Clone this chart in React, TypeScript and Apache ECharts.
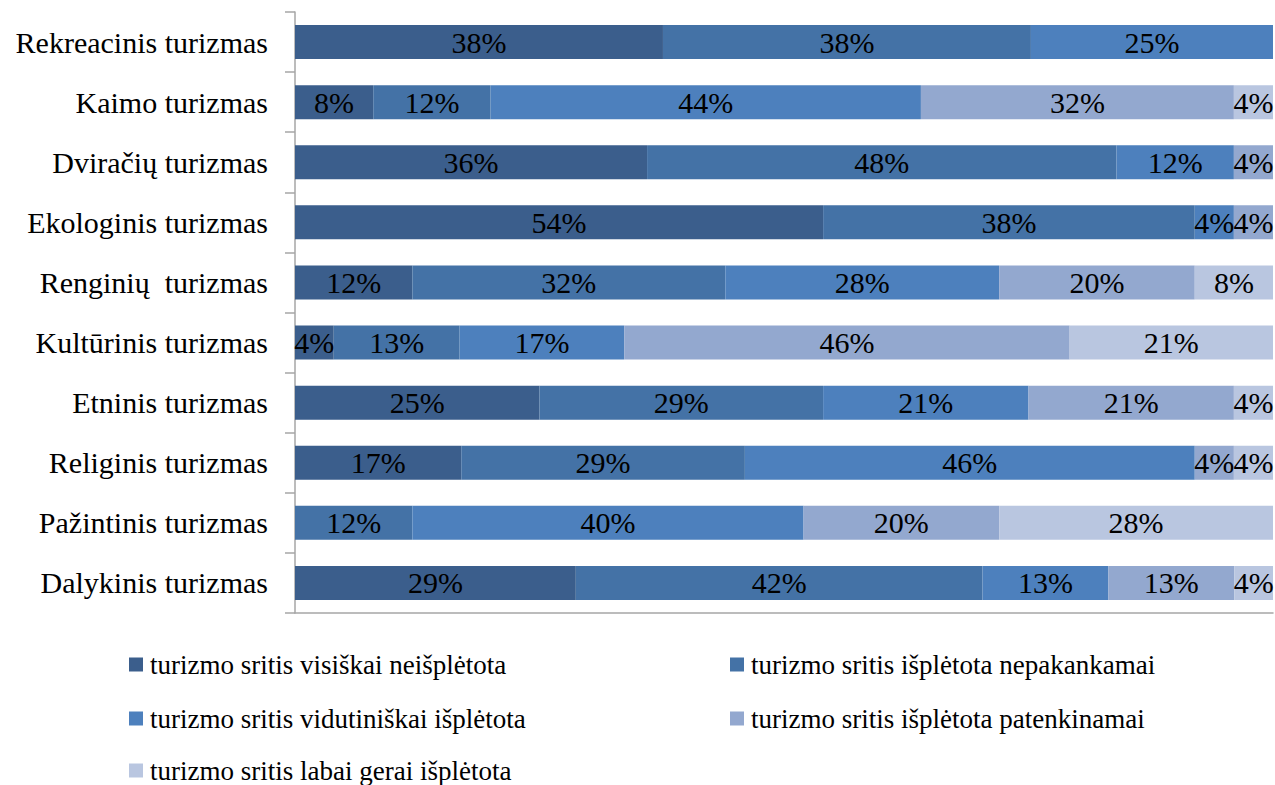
import React, { useEffect, useRef } from "react";
import * as echarts from "echarts";

const categories = [
  "Rekreacinis turizmas",
  "Kaimo turizmas",
  "Dviračių turizmas",
  "Ekologinis turizmas",
  "Renginių  turizmas",
  "Kultūrinis turizmas",
  "Etninis turizmas",
  "Religinis turizmas",
  "Pažintinis turizmas",
  "Dalykinis turizmas",
];

const seriesNames = [
  "turizmo sritis visiškai neišplėtota",
  "turizmo sritis išplėtota nepakankamai",
  "turizmo sritis vidutiniškai išplėtota",
  "turizmo sritis išplėtota patenkinamai",
  "turizmo sritis labai gerai išplėtota",
];

const visiskaiNeisplet = [38, 8, 36, 54, 12, 4, 25, 17, 0, 29];
const nepakankamai = [38, 12, 48, 38, 32, 13, 29, 29, 12, 42];
const vidutiniskai = [25, 44, 12, 4, 28, 17, 21, 46, 40, 13];
const patenkinamai = [0, 32, 4, 4, 20, 46, 21, 4, 20, 13];
const labaiGerai = [0, 4, 0, 0, 8, 21, 4, 4, 28, 4];

const seriesValues = [visiskaiNeisplet, nepakankamai, vidutiniskai, patenkinamai, labaiGerai];
const colors = ["#3B5E8C", "#4472A6", "#4D80BD", "#93A8CF", "#B9C6E0"];

const FONT = "Times New Roman, Liberation Serif, DejaVu Serif, serif";

export default function App() {
  const ref = useRef<HTMLDivElement>(null);
  useEffect(() => {
    if (!ref.current) return;
    const chart = echarts.init(ref.current, undefined, { renderer: "svg" });
    const rowSums = categories.map((_, i) =>
      seriesValues.reduce((s, arr) => s + arr[i], 0)
    );
    const series = seriesValues.map((arr, si) => ({
      name: seriesNames[si],
      type: "bar",
      stack: "total",
      barWidth: 34,
      itemStyle: { color: colors[si] },
      label: {
        show: true,
        position: "inside",
        color: "#000",
        fontFamily: FONT,
        fontSize: 30,
        formatter: (p: any) => (arr[p.dataIndex] ? arr[p.dataIndex] + "%" : ""),
      },
      data: arr.map((v, i) => (v ? (v / rowSums[i]) * 100 : null)),
    }));
    const legendPos = [
      { left: 129, top: 651 },
      { left: 730, top: 651 },
      { left: 129, top: 705 },
      { left: 730, top: 705 },
      { left: 129, top: 757 },
    ];
    const legends = seriesNames.map((n, i) => ({
      data: [n],
      left: legendPos[i].left,
      top: legendPos[i].top,
      padding: 0,
      icon: "rect",
      itemWidth: 14,
      itemHeight: 14,
      selectedMode: false,
      textStyle: { fontFamily: FONT, fontSize: 27, color: "#000", lineHeight: 26, padding: [0, 0, 0, 2] },
    }));
    chart.setOption({
      animation: false,
      color: colors,
      textStyle: { fontFamily: FONT },
      legend: legends,
      grid: { left: 295, right: 2, top: 12, bottom: 172, containLabel: false },
      xAxis: {
        type: "value",
        min: 0,
        max: 100,
        axisLine: { show: true, lineStyle: { color: "#A6A6A6", width: 1.5 } },
        axisTick: { show: false },
        axisLabel: { show: false },
        splitLine: { show: false },
      },
      yAxis: {
        type: "category",
        inverse: true,
        data: categories,
        axisLine: { show: true, lineStyle: { color: "#A6A6A6", width: 1.5 } },
        axisTick: { show: true, length: 10, lineStyle: { color: "#A6A6A6", width: 1.5 } },
        axisLabel: { fontFamily: FONT, fontSize: 30, color: "#000", margin: 27 },
      },
      series,
    });
    return () => chart.dispose();
  }, []);
  return (
    <div
      ref={ref}
      style={{ position: "absolute", left: 0, top: 0, width: 1275, height: 785, background: "#fff" }}
    />
  );
}
